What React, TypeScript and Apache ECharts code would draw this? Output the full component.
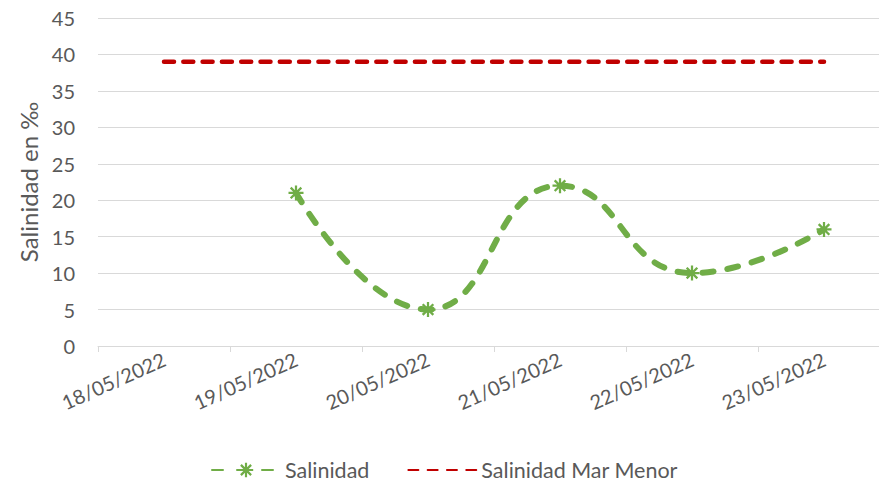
import React, { useEffect, useRef } from "react";
import * as echarts from "echarts";

const categories = ["18/05/2022", "19/05/2022", "20/05/2022", "21/05/2022", "22/05/2022", "23/05/2022"];
const salinidad: (number | null)[] = [null, 21, 5, 22, 10, 16];
const salinidadMarMenor = [39, 39, 39, 39, 39, 39];

const starPath =
  "path://M-0.9,-6L0.9,-6L0.9,6L-0.9,6Z" +
  "M-6,-0.9L6,-0.9L6,0.9L-6,0.9Z" +
  "M-4.9,-3.6L-3.6,-4.9L4.9,3.6L3.6,4.9Z" +
  "M3.6,-4.9L4.9,-3.6L-3.6,4.9L-4.9,3.6Z";

export default function App() {
  const ref = useRef<HTMLDivElement>(null);
  useEffect(() => {
    if (!ref.current) return;
    const chart = echarts.init(ref.current, undefined, { renderer: "svg" });
    const font = "Lato, 'Open Sans', sans-serif";
    chart.setOption({
      animation: false,
      textStyle: { fontFamily: font },
      grid: { left: 98, right: 0, top: 18, bottom: 144, containLabel: false },
      xAxis: {
        type: "category",
        data: categories,
        boundaryGap: true,
        axisLine: { lineStyle: { color: "#d9d9d9", width: 1 } },
        axisTick: { show: true, length: 6, lineStyle: { color: "#d9d9d9" } },
        axisLabel: { rotate: 24, color: "#595959", fontSize: 20, fontFamily: font, margin: 12 },
      },
      yAxis: {
        type: "value",
        min: 0,
        max: 45,
        interval: 5,
        name: "Salinidad en ‰",
        nameLocation: "middle",
        nameGap: 58,
        nameTextStyle: { color: "#595959", fontSize: 24, fontFamily: font },
        axisLine: { show: false },
        axisTick: { show: false },
        axisLabel: { color: "#595959", fontSize: 20, fontFamily: font, margin: 23 },
        splitLine: { lineStyle: { color: "#d9d9d9", width: 1 } },
      },
      legend: {
        bottom: 4,
        left: 206,
        itemGap: 38,
        itemWidth: 68,
        itemHeight: 18,
        textStyle: { color: "#595959", fontSize: 21.5, fontFamily: font },
        data: [
          { name: "Salinidad" },
          { name: "Salinidad Mar Menor", itemStyle: { opacity: 0 } },
        ],
      },
      series: [
        {
          name: "Salinidad",
          type: "line",
          data: salinidad,
          smooth: 0.5,
          symbol: starPath,
          symbolSize: 15,
          itemStyle: { color: "#70ad47" },
          lineStyle: { color: "#70ad47", width: 6, type: [11, 14], cap: "round" },
        },
        {
          name: "Salinidad Mar Menor",
          type: "line",
          data: salinidadMarMenor,
          symbol: "none",
          showSymbol: false,
          itemStyle: { color: "#c00000" },
          lineStyle: { color: "#c00000", width: 4.5, type: [10, 9.3], cap: "round" },
        },
      ],
    });
    return () => chart.dispose();
  }, []);
  return (
    <div style={{ position: "absolute", left: 0, top: 0, width: 879, height: 490, overflow: "hidden" }}>
      <div ref={ref} style={{ width: 890, height: 490 }} />
    </div>
  );
}
